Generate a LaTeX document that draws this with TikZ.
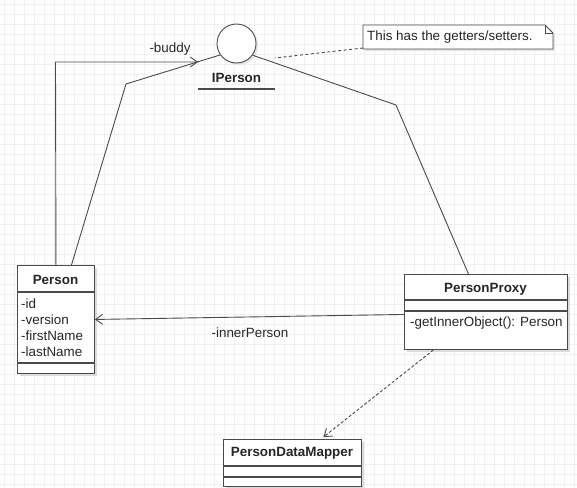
\documentclass[tikz,border=0pt]{standalone}
\usepackage{fontspec}
\setmainfont{Liberation Sans}
\usetikzlibrary{arrows.meta,shadows}
\definecolor{linec}{HTML}{4A4A4A}
\definecolor{gridc}{HTML}{F0F0F0}
\begin{document}
\begin{tikzpicture}[x=1pt,y=-1pt,
  every node/.style={font=\fontsize{13.4}{15.7}\selectfont, text=black!85},
  classbox/.style={draw=linec, fill=white, line width=0.9pt, inner sep=0pt,
    drop shadow={shadow xshift=2.5pt, shadow yshift=-2.5pt, fill=black!14, opacity=1}},
  divider/.style={draw=linec, line width=1.3pt},
  conn/.style={draw=linec, line width=0.9pt},
  openarrow/.style={-{Straight Barb[length=7pt,width=10pt]}},
  txt/.style={inner sep=0pt},
  hdr/.style={inner sep=0pt, font=\fontsize{13.4}{15.7}\selectfont\bfseries}]
\useasboundingbox (0,0) rectangle (577,487);
\fill[white] (0,0) rectangle (577,487);
\foreach \i in {0,10,...,570} \draw[gridc, line width=0.5pt] (\i+4,0) -- (\i+4,487);
\foreach \j in {0,10,...,480} \draw[gridc, line width=0.5pt] (0,\j+4) -- (577,\j+4);

% IPerson interface
\node[circle, draw=linec, fill=white, line width=0.9pt, minimum size=39pt, inner sep=0pt,
  drop shadow={shadow xshift=2pt, shadow yshift=-2pt, fill=black!10, opacity=1}] (ip) at (236.5,43.5) {};
\node[hdr] (iplabel) at (236.5,78) {IPerson};
\draw[conn, line width=1.3pt] (198,89) -- (275,89);

% note
\draw[conn, fill=white, drop shadow={shadow xshift=2pt, shadow yshift=-2pt, fill=black!10, opacity=1}]
  (363,25) -- (545,25) -- (553,33) -- (553,49) -- (363,49) -- cycle;
\draw[conn] (545,25) -- (545,33) -- (553,33);
\node[txt, anchor=west] (note) at (367,37) {This has the getters/setters.};
\coordinate (noteA) at (363,48);
\coordinate (noteB) at (275,58);

% Person
\node[classbox, minimum width=77pt, minimum height=108pt, anchor=north west] (person) at (17,265) {};
\node[hdr] (personh) at (55.5,280) {Person};
\draw[divider] (17,292) -- (94,292);
\node[txt, anchor=west] (a1) at (21,304) {-id};
\node[txt, anchor=west] (a2) at (21,320) {-version};
\node[txt, anchor=west] (a3) at (21,336) {-firstName};
\node[txt, anchor=west] (a4) at (21,351.5) {-lastName};
\draw[divider] (17,363) -- (94,363);

% PersonProxy
\node[classbox, minimum width=163pt, minimum height=75pt, anchor=north west] (proxy) at (404,274) {};
\node[hdr] (proxyh) at (485.5,289) {PersonProxy};
\draw[divider] (404,300) -- (567,300);
\draw[divider] (404,311) -- (567,311);
\node[txt, anchor=west] (m1) at (410,323.5) {-getInnerObject(): Person};

% PersonDataMapper
\node[classbox, minimum width=138pt, minimum height=47pt, anchor=north west] (pdm) at (223,439) {};
\node[hdr] (pdmh) at (292,453) {PersonDataMapper};
\draw[divider] (223,466) -- (361,466);
\draw[divider] (223,477) -- (361,477);

% realization lines
\coordinate (b1) at (126,84);
\coordinate (b2) at (396,105);
\draw[conn] (ip.215) -- (b1) -- ([xshift=15.5pt]person.north);
\draw[conn] (ip.-36) -- (b2) -- ([xshift=-17.5pt]proxy.north);

% buddy association
\coordinate (bc) at (55.5,62);
\coordinate (bt) at (198,62);
\draw[conn, openarrow] (person.north) -- (bc) -- (bt);
\node[txt] (buddy) at (170,49) {-buddy};

% innerPerson association
\draw[conn, openarrow] ([yshift=-2.5pt]proxy.west) -- (person.east);
\node[txt] (inner) at (250,333) {-innerPerson};

% dependency
\draw[conn, dashed, dash pattern=on 3pt off 2pt, openarrow] ([xshift=-52.5pt]proxy.south) -- ([xshift=31pt,yshift=2pt]pdm.north);

% note anchor line
\draw[conn, dash pattern=on 3pt off 2.5pt] (noteA) -- (noteB);
\end{tikzpicture}
\end{document}
